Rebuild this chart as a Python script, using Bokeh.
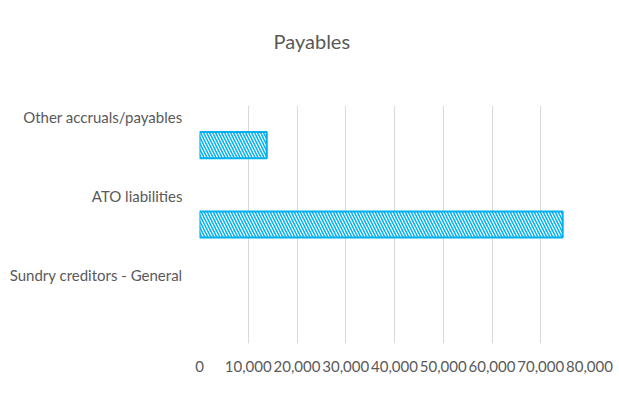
from bokeh.plotting import figure
from bokeh.models import FixedTicker, NumeralTickFormatter, Title, ColumnDataSource
from bokeh.embed import file_html
from bokeh.resources import INLINE

# Payables by category (bottom to top)
categories = ["Sundry creditors - General", "ATO liabilities", "Other accruals/payables"]
amounts = [0, 74500, 13800]
x_ticks = [0, 10000, 20000, 30000, 40000, 50000, 60000, 70000, 80000]

positions = [i + 0.5 for i in range(len(categories))]
# empty categories get no outline
outline_alpha = [1.0 if a > 0 else 0.0 for a in amounts]
source = ColumnDataSource(dict(y=positions, amount=amounts, name=categories,
                               la=outline_alpha))

FONT = "Lato"
GREY = "#595959"
BLUE = "#00B0F0"
W, H = 619, 401

p = figure(width=W, height=H, x_range=(0, 80000), y_range=(0, 3),
           output_backend="svg", toolbar_location=None,
           min_border_left=199, min_border_right=30,
           min_border_top=105, min_border_bottom=58)
p.title = None

# blank panel between the frame and the title, pushing the title upwards
spacer = Title(text=" ", text_font=FONT, text_font_size="20px", standoff=22)
# chart title, shifted so it sits centred on the whole canvas
main_title = Title(text="Payables", align="left", offset=74, text_font=FONT,
                   text_font_size="20px", text_font_style="normal",
                   text_color=GREY, standoff=10)
p.above = [spacer, main_title]

p.hbar(y="y", right="amount", left=0, height=0.33, source=source,
       fill_color="white", line_color=BLUE, line_width=2, line_alpha="la",
       hatch_pattern="left_diagonal_line", hatch_color=BLUE,
       hatch_scale=6, hatch_weight=1.5)

# value axis
p.xaxis.ticker = FixedTicker(ticks=x_ticks)
p.xaxis.formatter = NumeralTickFormatter(format="0,0")
p.xaxis.axis_line_color = None
p.xaxis.major_tick_line_color = None
p.xaxis.minor_tick_line_color = None
p.xaxis.major_label_text_font = FONT
p.xaxis.major_label_text_font_size = "15px"
p.xaxis.major_label_text_color = GREY
p.xaxis.major_label_standoff = 11

# category axis: labels sit near the top of each band
label_pos = [i + 0.86 for i in range(len(categories))]
p.yaxis.ticker = FixedTicker(ticks=label_pos)
p.yaxis.major_label_overrides = {lp: c for lp, c in zip(label_pos, categories)}
p.yaxis.axis_line_color = None
p.yaxis.major_tick_line_color = None
p.yaxis.minor_tick_line_color = None
p.yaxis.major_label_text_font = FONT
p.yaxis.major_label_text_font_size = "15px"
p.yaxis.major_label_text_color = GREY
p.yaxis.major_label_standoff = 11

p.xgrid.grid_line_color = "#D9D9D9"
p.xgrid.grid_line_width = 1
p.ygrid.grid_line_color = None
p.outline_line_color = None
p.background_fill_color = "white"
p.border_fill_color = "white"

open("out.html", "w").write(file_html(p, INLINE))
